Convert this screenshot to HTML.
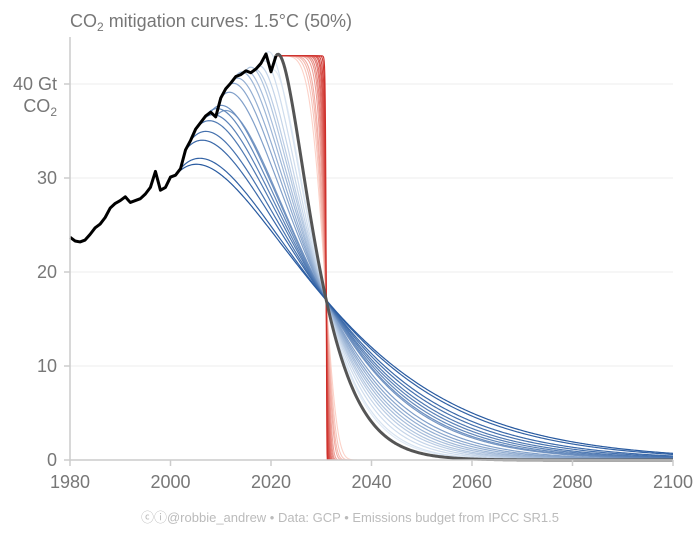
<!DOCTYPE html>
<html><head><meta charset="utf-8">
<style>
body{margin:0;background:#fff;font-family:"Liberation Sans",sans-serif;}
svg text{font-family:"Liberation Sans",sans-serif;}
</style></head>
<body>
<svg id="chart" width="700" height="530" viewBox="0 0 700 530" xmlns="http://www.w3.org/2000/svg">
<text x="70" y="27" font-size="18" fill="#777">CO<tspan font-size="12" dy="4">2</tspan><tspan dy="-4"> mitigation curves: 1.5°C (50%)</tspan></text>
<g id="grid"></g>
<g id="curves"></g>
<g id="axes"></g>
<text x="350" y="522" font-size="13" fill="#bbb" text-anchor="middle">ⓒⓘ@robbie_andrew  •  Data: GCP  •  Emissions budget from IPCC SR1.5</text>
</svg>
<script>
const histYears = [1980,1981,1982,1983,1984,1985,1986,1987,1988,1989,1990,1991,1992,1993,1994,1995,1996,1997,1998,1999,2000,2001,2002,2003,2004,2005,2006,2007,2008,2009,2010,2011,2012,2013,2014,2015,2016,2017,2018,2019,2020,2021];
const histValues = [23.7,23.3,23.2,23.4,24.0,24.7,25.1,25.8,26.8,27.3,27.6,28.0,27.4,27.6,27.8,28.3,29.0,30.7,28.7,29.0,30.1,30.3,31.0,33.0,34.0,35.2,35.9,36.6,37.0,36.5,38.5,39.5,40.1,40.8,41.0,41.4,41.2,41.6,42.2,43.2,41.3,43.0];
const blueStartYears = [2001,2002,2003,2004,2005,2006,2007,2008,2009,2010,2011,2012,2013,2014,2015,2016,2017,2018,2019,2020];
const grayStartYear = 2021;
const pivotYear = 2031;
const pivotValue = 17;
const redPlateau = 43;
const redSteepness = [5,6,7,8,10,12,14,17,20,25,30,40,60,100];
const xTicks = [1980,2000,2020,2040,2060,2080,2100];
const yTicks = [0,10,20,30,40];
const initialGrowth = 0.02;

const NS="http://www.w3.org/2000/svg";
const X0=70,X1=673,Y0=460,Y40=84;
const xs=y=>X0+(y-1980)*(X1-X0)/120;
const ys=v=>Y0-v*(Y0-Y40)/40;
const grid=document.getElementById('grid'),axes=document.getElementById('axes'),curves=document.getElementById('curves');
function mk(tag,attrs,parent){const e=document.createElementNS(NS,tag);for(const k in attrs)e.setAttribute(k,attrs[k]);parent.appendChild(e);return e;}

yTicks.forEach(v=>{
  if(v>0){const g=mk('line',{x1:X0,x2:X1,y1:ys(v),y2:ys(v),stroke:'#eee','stroke-width':1},grid);
  
  }
  const t=mk('line',{x1:X0-6,x2:X0,y1:ys(v),y2:ys(v),stroke:'#ccc','stroke-width':1.5},axes);
  
  
  const lab=mk('text',{x:X0-13,y:ys(v)+6,'font-size':18,fill:'#777','text-anchor':'end'},axes);
  lab.textContent=v===40?'40 Gt':String(v);
  
  
});
const unit=mk('text',{x:X0-13,y:ys(40)+28,'font-size':18,fill:'#777','text-anchor':'end'},axes);
unit.innerHTML='CO<tspan font-size="12" dy="4">2</tspan>';


const yax=mk('line',{x1:X0,x2:X0,y1:37,y2:Y0,stroke:'#ccc','stroke-width':1.5},axes);


const xax=mk('line',{x1:X0,x2:X1,y1:Y0,y2:Y0,stroke:'#ccc','stroke-width':1.5},axes);


xTicks.forEach(y=>{
  const t=mk('line',{x1:xs(y),x2:xs(y),y1:Y0,y2:Y0+6,stroke:'#ccc','stroke-width':1.5},axes);
  
  
  const lab=mk('text',{x:xs(y),y:488,'font-size':18,fill:'#777','text-anchor':'middle'},axes);
  lab.textContent=String(y);
  
  
});

function histAt(y){const i=histYears.indexOf(y);return histValues[i];}
function blueCurve(s){
  const E=histAt(s),T=pivotYear-s,r=pivotValue/E;
  const f=k=>(1+(k+initialGrowth)*T)*Math.exp(-k*T)-r;
  let lo=0.0001,hi=3;
  for(let i=0;i<60;i++){const m=(lo+hi)/2; if(f(m)>0)lo=m;else hi=m;}
  const k=(lo+hi)/2,c=k+initialGrowth;
  const pts=[];
  for(let t=s;t<=2100.001;t+=0.25){const d=t-s;pts.push([t,E*(1+c*d)*Math.exp(-k*d)]);}
  return pts;
}
function redCurve(p){
  const s=grayStartYear,T=pivotYear-s,r=-Math.log(pivotValue/redPlateau);
  const tau=T/Math.pow(r,1/p);
  const pts=[];
  for(let t=s;t<=2100.001;t+=0.05){const d=t-s;pts.push([t,redPlateau*Math.exp(-Math.pow(d/tau,p))]);}
  return pts;
}
function pathD(pts){return pts.map((q,i)=>(i?'L':'M')+xs(q[0]).toFixed(2)+','+ys(q[1]).toFixed(2)).join('');}
function lerp(a,b,t){return a.map((v,i)=>Math.round(v+(b[i]-v)*t));}

// blue family: lightest (latest) first
for(let i=blueStartYears.length-1;i>=0;i--){
  const s=blueStartYears[i],t=i/(blueStartYears.length-1);
  const col=lerp([40,90,160],[225,235,246],t);
  const p=mk('path',{d:pathD(blueCurve(s)),fill:'none',stroke:`rgb(${col})`,'stroke-width':1.2},curves);
  
  
}
// red family: lightest first
redSteepness.forEach((pp,i)=>{
  const t=i/(redSteepness.length-1);
  const col=lerp([252,210,200],[205,45,40],t);
  const p=mk('path',{d:pathD(redCurve(pp)),fill:'none',stroke:`rgb(${col})`,'stroke-width':1.1},curves);
  
  
});
const gray=mk('path',{d:pathD(blueCurve(grayStartYear)),fill:'none',stroke:'#555','stroke-width':3},curves);


const hist=mk('path',{d:pathD(histYears.map((y,i)=>[y,histValues[i]])),fill:'none',stroke:'#000','stroke-width':3,'stroke-linejoin':'round'},curves);


</script>
</body></html>
